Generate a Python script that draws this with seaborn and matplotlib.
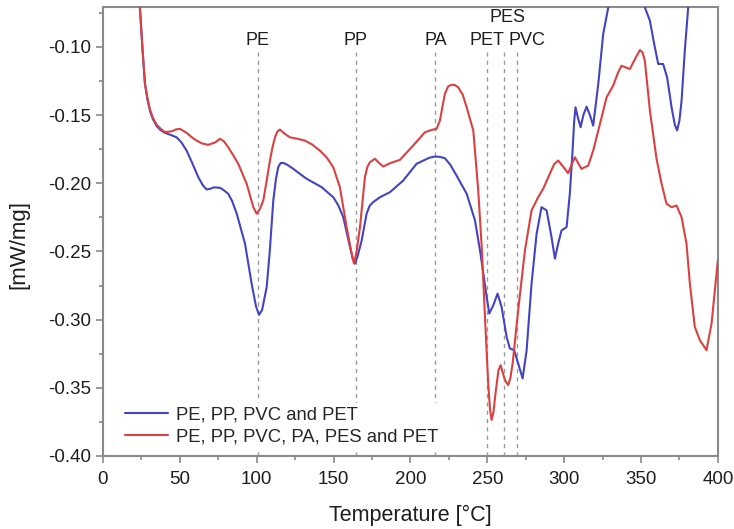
import numpy as np
import pandas as pd
import matplotlib
matplotlib.use("Agg")
import matplotlib.pyplot as plt
from matplotlib.ticker import MultipleLocator, FormatStrFormatter
import seaborn as sns

# ---- data ----
blue_label = "PE, PP, PVC and PET"
red_label = "PE, PP, PVC, PA, PES and PET"

blue_T = [22, 24, 25.8, 27.3, 29, 30.6, 32.5, 34.9, 37.5, 40.3, 44, 47.9, 51, 54.4, 58, 62, 65,
          67.4, 70, 72, 76.1, 78.5, 81.5, 84, 87, 92.4, 96.7, 99.5, 101.5, 103.5, 106.5,
          108.5, 110.8, 112.5, 114, 115.5, 117.3, 120, 123.8, 128, 132.5, 142.2, 149.8, 153,
          156.3, 160.7, 162.5, 163.9, 165.5, 168.3, 171.5, 173.5, 175.8, 180.2, 186.7, 195.3,
          204, 209.4, 212.5, 215.9, 219, 222.4, 226, 230, 236.6, 242, 245.6, 249.6, 251.3,
          253.9, 256.7, 259.3, 262.6, 264.7, 267.5, 270.1, 273, 275.6, 278.8, 282.1, 285.3,
          288.6, 291.8, 294, 296.1, 298.3, 301.6, 303.7, 305.5, 306.5, 307.4, 309, 310.7,
          312.5, 314.6, 316.8, 318.9, 322.2, 325.4, 328.7, 335, 345, 352.5, 355.8, 358.6,
          361.2, 364.4, 367, 369.9, 372, 373.5, 375, 376.4, 378.5, 380.7, 382]
blue_v = [-0.035, -0.071, -0.103, -0.127, -0.139, -0.147, -0.153, -0.158, -0.161, -0.163,
          -0.1645, -0.1663, -0.170, -0.176, -0.185, -0.1955, -0.2015, -0.2045, -0.2040,
          -0.2030, -0.2033, -0.2050, -0.2077, -0.2130, -0.2223, -0.2443, -0.2736, -0.290,
          -0.2965, -0.293, -0.2761, -0.250, -0.2126, -0.197, -0.1882, -0.1852, -0.185, -0.1865,
          -0.1894, -0.193, -0.1967, -0.2028, -0.2102, -0.2160, -0.2248, -0.2468, -0.2555,
          -0.2589, -0.2540, -0.2419, -0.2223, -0.2165, -0.2138, -0.2102, -0.2065, -0.198,
          -0.1857, -0.1828, -0.1812, -0.1804, -0.1806, -0.1816, -0.1865, -0.1943, -0.2077,
          -0.2272, -0.2516, -0.2834, -0.2955, -0.2895, -0.2809, -0.2907, -0.3127, -0.3212,
          -0.3224, -0.3321, -0.3431, -0.3224, -0.2736, -0.237, -0.2175, -0.2199, -0.2395,
          -0.2553, -0.2443, -0.2346, -0.2321, -0.2077, -0.176, -0.155, -0.1443, -0.1520,
          -0.1589, -0.1500, -0.1438, -0.1500, -0.1577, -0.1272, -0.0906, -0.0711, -0.05,
          -0.05, -0.071, -0.0808, -0.0979, -0.1125, -0.1125, -0.1223, -0.1443, -0.1570,
          -0.1613, -0.1540, -0.1394, -0.1028, -0.0711, -0.05]

red_T = [22, 24, 25.8, 27.3, 29, 30.6, 32.5, 34.9, 37.5, 40.3, 44.7, 47.5, 50.1, 54.4, 57.5,
         60.9, 64.5, 68.5, 73, 76.1, 78.5, 81.5, 84.5, 88, 93.5, 97.8, 100, 102, 104.3, 106.5,
         108.6, 110.3, 111.9, 113.5, 115.1, 118, 121.6, 126, 131.4, 136, 141.1, 145.5, 149.8,
         154.1, 158.5, 161.5, 163.3, 165, 167.2, 170.4, 172, 173.7, 176.9, 179.5, 182.3,
         186.7, 193.2, 201.8, 209.4, 214, 217, 219.2, 220.8, 222.4, 224.5, 226.8, 229,
         231.1, 234, 236.6, 240.9, 244.1, 246.3, 248.5, 250.6, 251.8, 252.8, 254, 255.6,
         257.3, 258.7, 261.5, 263.6, 265, 266.5, 270.1, 274.5, 278.8, 283.1, 286.4, 290.7,
         293.5, 296.1, 299.5, 302.6, 305, 307, 309, 311.3, 315.7, 318.9, 323.3, 327.6,
         331.9, 335, 337.3, 340, 342.8, 346.5, 349.3, 351, 352.5, 355.8, 360.1, 363.4,
         366.6, 369.9, 373.1, 376.4, 379.6, 381.8, 385, 388.3, 392.6, 395.9, 400]
red_v = [-0.035, -0.071, -0.103, -0.127, -0.138, -0.146, -0.152, -0.157, -0.160, -0.1625,
         -0.1619, -0.1605, -0.1601, -0.163, -0.1660, -0.1687, -0.1708, -0.1718, -0.170,
         -0.1674, -0.1690, -0.1736, -0.1790, -0.1857, -0.2004, -0.2175, -0.2223, -0.219,
         -0.2126, -0.198, -0.1833, -0.1735, -0.1663, -0.1620, -0.1606, -0.1635, -0.1663,
         -0.1672, -0.1687, -0.1715, -0.176, -0.1810, -0.1882, -0.2028, -0.2321, -0.2500,
         -0.2589, -0.2500, -0.2321, -0.1955, -0.1880, -0.1845, -0.182, -0.1850, -0.1877,
         -0.1853, -0.1828, -0.1723, -0.1626, -0.1608, -0.1601, -0.154, -0.1440, -0.1345,
         -0.1290, -0.1277, -0.1280, -0.1296, -0.1350, -0.1443, -0.1613, -0.205, -0.245,
         -0.298, -0.3468, -0.3660, -0.3736, -0.3680, -0.3517, -0.3370, -0.3334, -0.3444,
         -0.348, -0.3430, -0.3321, -0.2931, -0.2492, -0.2199, -0.2102, -0.204, -0.193,
         -0.1860, -0.1833, -0.1880, -0.1926, -0.1860, -0.1809, -0.1850, -0.1894, -0.187,
         -0.176, -0.1565, -0.137, -0.1284, -0.1190, -0.1138, -0.1150, -0.1162, -0.1080,
         -0.1023, -0.1040, -0.1101, -0.1467, -0.182, -0.2004, -0.215, -0.2175, -0.2163,
         -0.2248, -0.2443, -0.2736, -0.3053, -0.3151, -0.3224, -0.3029, -0.2565]

marker_names = ["PE", "PP", "PA", "PET", "PES", "PVC"]
marker_T = [100.8, 164.3, 216.3, 250.0, 261.0, 269.3]
label_T = [100.8, 164.3, 216.3, 249.6, 263.4, 275.8]
label_v = [-0.0955, -0.0955, -0.0955, -0.0955, -0.0786, -0.0955]

# ---- build table ----
df = pd.concat([
    pd.DataFrame({"T": blue_T, "v": blue_v, "series": blue_label}),
    pd.DataFrame({"T": red_T, "v": red_v, "series": red_label}),
], ignore_index=True)

sns.set_theme(style="white")
plt.rcParams["font.family"] = ["Liberation Sans", "DejaVu Sans"]
plt.rcParams["lines.solid_joinstyle"] = "round"
plt.rcParams["lines.solid_capstyle"] = "round"

fig = plt.figure(figsize=(7.34, 5.29), dpi=100)
ax = fig.add_axes([0.1403, 0.138, 0.978 - 0.1403, 0.9868 - 0.138])

grey = "#8a8a8a"
txt = "#1e1e1e"
for t in marker_T:
    ax.plot([t, t], [-0.40, -0.1037], ls=(0, (3, 3)), color="#9a9a9a", lw=1.0, zorder=1)
for name, t, v in zip(marker_names, label_T, label_v):
    ax.text(t, v, name, ha="center", va="center", fontsize=13, color=txt)

sns.lineplot(data=df, x="T", y="v", hue="series", hue_order=[blue_label, red_label],
             palette=["#4343c4", "#dc4040"], sort=False, estimator=None, units="series",
             lw=1.5, ax=ax, zorder=3)

ax.set_xlim(0, 400)
ax.set_ylim(-0.40, -0.0707)
ax.xaxis.set_major_locator(MultipleLocator(50))
ax.xaxis.set_minor_locator(MultipleLocator(25))
ax.yaxis.set_major_locator(MultipleLocator(0.05))
ax.yaxis.set_minor_locator(MultipleLocator(0.025))
ax.yaxis.set_major_formatter(FormatStrFormatter("%.2f"))
ax.tick_params(which="major", direction="out", length=5, width=1.2, color=grey,
               labelsize=13.5, labelcolor=txt, bottom=True, left=True)
ax.tick_params(axis="x", which="major", pad=6)
ax.tick_params(axis="y", which="major", pad=3.5)
ax.tick_params(which="minor", direction="out", length=3, width=1.2, color=grey,
               bottom=True, left=True)
for s in ax.spines.values():
    s.set_color(grey)
    s.set_linewidth(1.5)

ax.set_xlabel("Temperature [°C]", fontsize=15.5, color=txt, labelpad=12)
ax.set_ylabel("[mW/mg]", fontsize=16, color=txt)
ax.yaxis.set_label_coords(-0.12, 0.47)

leg = ax.legend(loc="lower left", bbox_to_anchor=(0.015, -0.006), fontsize=13.3,
                frameon=True, framealpha=1.0, facecolor="white", edgecolor="none",
                handlelength=2.3, handletextpad=0.45, borderpad=0.2, labelspacing=0.3)
for h in leg.get_lines():
    h.set_linewidth(1.5)
leg.set_zorder(5)

fig.savefig("out.png", dpi=100)
